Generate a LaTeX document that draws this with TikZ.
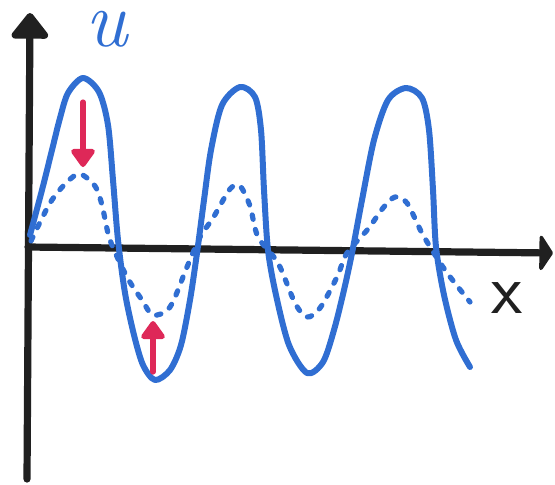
\documentclass[tikz,border=0pt]{standalone}
\usepackage{fontspec}
\usetikzlibrary{arrows.meta}
\definecolor{markerblue}{RGB}{48,110,210}
\definecolor{markerred}{RGB}{222,40,88}
\definecolor{pencil}{RGB}{32,32,32}
\tikzset{
    sketch/.style   = {line cap=round, line join=round},
    axis/.style     = {sketch, draw=pencil, line width=3.6pt},
    wave/.style     = {sketch, draw=markerblue, line width=3pt},
    damped/.style   = {sketch, draw=markerblue, line width=2.6pt,
                       dash pattern=on 2.2pt off 5.2pt},
    nudge/.style    = {sketch, draw=markerred, line width=2.6pt,
                       -{Triangle[length=10pt, width=13.5pt, round]}},
    hand/.style     = {font=\fontsize{40}{44}\selectfont, inner sep=0pt}
}
\begin{document}
\begin{tikzpicture}[x=0.5pt, y=-0.5pt]
\useasboundingbox (0,0) rectangle (555,484);

% Axes
\coordinate (origin) at (28,247);
\coordinate (ytop)   at (30,13);
\coordinate (ybot)   at (27,479);
\coordinate (xend)   at (553,253);
\draw[axis, -{Triangle[length=14pt, width=21pt, round]}] (ybot) -- (ytop);
\draw[axis, -{Triangle[length=7pt, width=21pt, round]}] (origin) -- (xend);
\node[hand, text=markerblue, anchor=base] (ulabel) at (106,46) {\itshape u};
\node[hand, text=pencil, font=\fontsize{36}{40}\selectfont\sffamily]
    (xlabel) at (507,298) {x};

% Full oscillation
\draw[wave]
    plot[smooth] coordinates {
      (30,235) (42,190) (52,150) (60,118) (68,93) (83,78) (99,92)
      (108,125) (113,180) (118,240) (125,293) (134,335) (143,365)
      (155,380) (170,370) (181,345) (190,300) (197,253) (204,200)
      (211,150) (222,105) (240,87) (255,97) (261,130) (264,190)
      (268,250) (276,295) (289,345) (307,373) (323,362) (334,330)
      (344,290) (352,253) (362,200) (374,140) (388,100) (406,88)
      (422,98) (429,130) (433,190) (436,247) (444,295) (456,340)
      (470,367)
    };

% Reduced oscillation
\draw[damped]
    plot[smooth] coordinates {
      (31,241) (50,203) (67,182) (80,174) (95,186) (102,205) (110,240)
      (127,277) (142,300) (153,315) (170,307) (187,267) (200,237)
      (213,218) (230,189) (240,186) (250,206) (258,237) (278,263)
      (295,303) (307,317) (320,308) (337,277) (347,253) (368,229)
      (383,208) (395,197) (407,203) (423,235) (445,270) (470,302)
    };

% Amplitude pulled in
\coordinate (down from) at (83,102);
\coordinate (down to)   at (83,167);
\coordinate (up from)   at (153,372);
\coordinate (up to)     at (153,321);
\draw[nudge] (down from) -- (down to);
\draw[nudge] (up from) -- (up to);

\end{tikzpicture}
\end{document}
